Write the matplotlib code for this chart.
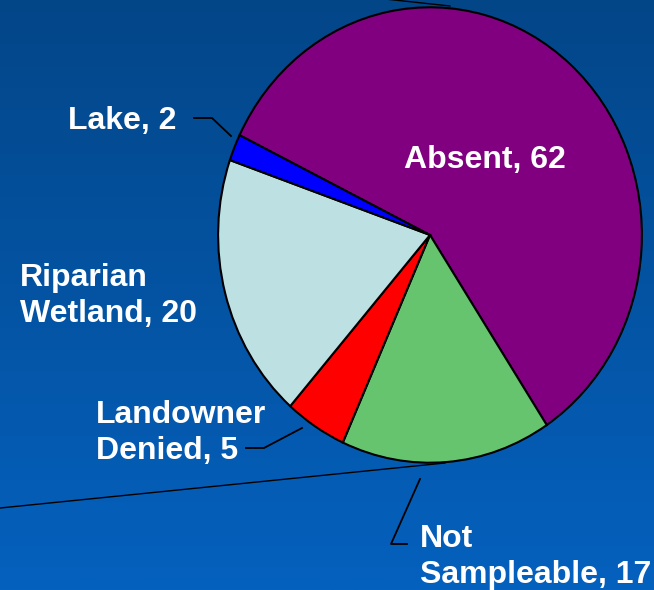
import numpy as np
import matplotlib
matplotlib.use("Agg")
import matplotlib.pyplot as plt

# Data
categories = ["Absent", "Not\nSampleable", "Landowner\nDenied", "Riparian\nWetland", "Lake"]
values = [62, 17, 5, 20, 2]
colors = ["#800080", "#66C36E", "#FF0000", "#BDE0E3", "#0000FF"]

W, H = 654, 590
fig = plt.figure(figsize=(W / 100, H / 100), dpi=100)

# Background gradient
bg = fig.add_axes([0, 0, 1, 1])
bg.set_xlim(0, W)
bg.set_ylim(H, 0)
bg.axis("off")
top = np.array([3, 70, 136]) / 255
bot = np.array([5, 97, 190]) / 255
t = np.linspace(0, 1, 256)[:, None]
grad = (top[None, :] * (1 - t) + bot[None, :] * t)[:, None, :]
bg.imshow(grad, extent=[0, W, H, 0], aspect="auto", zorder=0)

# Connector lines (behind pie)
bg.plot([385, 450], [-1, 6], color="black", lw=1, zorder=1)
bg.plot([0, 445], [508, 463], color="black", lw=1, zorder=1)

# Pie axis (elliptical)
cx0, cx1, cy0, cy1 = 216, 644, 5, 465
pax = fig.add_axes([cx0 / W, (H - cy1) / H, (cx1 - cx0) / W, (cy1 - cy0) / H])
pax.pie(values, colors=colors, startangle=154, counterclock=False,
        wedgeprops=dict(edgecolor="black", linewidth=1.5))
pax.set_aspect("auto")
pax.set_xlim(-1.01, 1.01)
pax.set_ylim(-1.01, 1.01)
pax.axis("off")
pax.patch.set_alpha(0)

# Overlay for labels and leader lines
ov = fig.add_axes([0, 0, 1, 1])
ov.set_xlim(0, W)
ov.set_ylim(H, 0)
ov.axis("off")
ov.patch.set_alpha(0)

ov.plot([194, 212, 231], [118, 118, 136], color="black", lw=1.3)
ov.plot([246, 264, 302], [448, 448, 428], color="black", lw=1.3)
ov.plot([420, 391, 407], [479, 544, 544], color="black", lw=1.3)

fs = 23
kw = dict(color="white", fontsize=fs, fontweight="bold", family=["Liberation Sans", "DejaVu Sans"],
          linespacing=1.3)
ov.text(176, 121, f"Lake, {values[4]}", ha="right", va="center", **kw)
ov.text(485, 160, f"{categories[0]}, {values[0]}", ha="center", va="center", **kw)
ov.text(20, 296, f"{categories[3]}, {values[3]}", ha="left", va="center", **kw)
ov.text(96, 433, f"{categories[2]}, {values[2]}", ha="left", va="center", **kw)
ov.text(420, 557, f"{categories[1]}, {values[1]}", ha="left", va="center", **kw)

fig.savefig("out.png", dpi=100)
